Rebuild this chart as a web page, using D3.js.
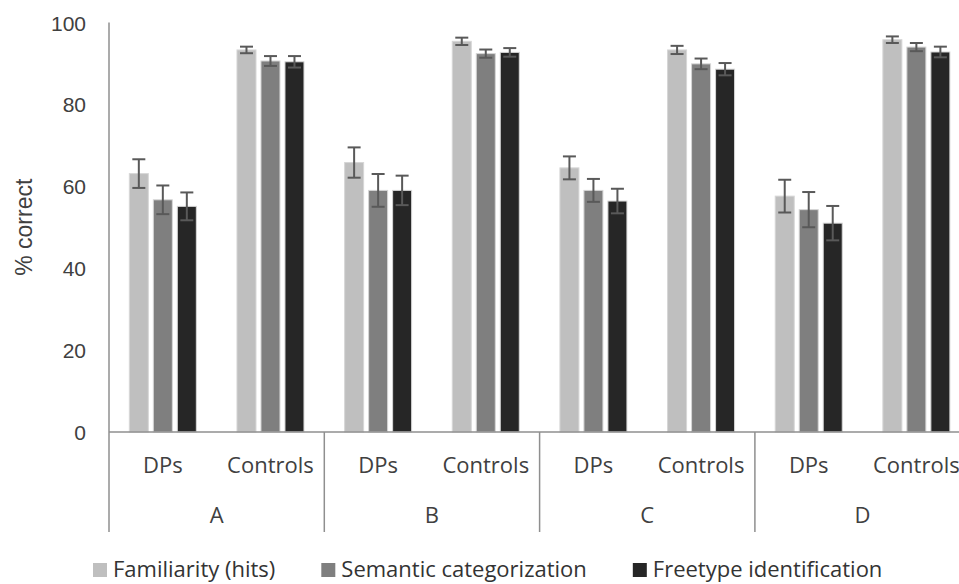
<!DOCTYPE html>
<html>
<head>
<meta charset="utf-8">
<script src="https://cdn.jsdelivr.net/npm/d3@7"></script>
<style>
  body { margin: 0; background: #fff; }
  svg { display: block; }
</style>
</head>
<body>
<svg width="959" height="584"></svg>
<script>
// chart data
var groups = ['A', 'B', 'C', 'D'];
var subgroups = ['DPs', 'Controls'];
var seriesNames = ['Familiarity (hits)', 'Semantic categorization', 'Freetype identification'];
var yTicks = [0, 20, 40, 60, 80, 100];

// values in order A-DPs, A-Controls, B-DPs, B-Controls, ...
var familiarity = [63.1, 93.3, 65.8, 95.4, 64.5, 93.3, 57.6, 95.8];
var semantic = [56.7, 90.6, 59.0, 92.4, 59.0, 89.9, 54.3, 94.0];
var freetype = [55.1, 90.4, 59.0, 92.7, 56.4, 88.6, 51.0, 92.8];

var familiarityErr = [3.5, 0.8, 3.7, 0.9, 2.8, 1.0, 4.0, 0.8];
var semanticErr = [3.5, 1.2, 4.0, 1.0, 2.8, 1.3, 4.3, 1.0];
var freetypeErr = [3.4, 1.4, 3.6, 1.05, 3.0, 1.5, 4.2, 1.3];

var seriesValues = [familiarity, semantic, freetype];
var seriesErrors = [familiarityErr, semanticErr, freetypeErr];
var colors = ['#bfbfbf', '#7f7f7f', '#262626'];

var svg = d3.select('svg');

var axisColor = '#8f8f8f';
var textColor = '#404040';
var labelFont = "'Open Sans', sans-serif";
var tickFont = "'Liberation Sans', Arial, sans-serif";

// layout
var plotLeft = 109;
var groupWidth = 215.3;
var baseY = 432;
var topY = 22.5;

var x0 = d3.scaleBand().domain(groups)
    .range([plotLeft, plotLeft + groupWidth * groups.length]);
var x1 = d3.scaleBand().domain(subgroups).range([0, x0.bandwidth()]);
// three bars of width 19 on a 24 px pitch, centred in each sub band
var clusterW = 67;
var x2 = d3.scaleBand().domain(d3.range(3))
    .range([(x1.bandwidth() - clusterW) / 2, (x1.bandwidth() + clusterW) / 2])
    .paddingInner(5 / 24);
var y = d3.scaleLinear().domain([0, 100]).range([baseY, topY]);

// flatten into records
var records = [];
groups.forEach(function(g, gi) {
    subgroups.forEach(function(s, si) {
        var idx = gi * subgroups.length + si;
        seriesNames.forEach(function(name, k) {
            records.push({group: g, sub: s, k: k,
                value: seriesValues[k][idx], err: seriesErrors[k][idx]});
        });
    });
});

// y axis labels
var yAxis = d3.axisLeft(y).tickValues(yTicks).tickSize(0).tickPadding(0);
var yG = svg.append('g')
    .attr('transform', 'translate(86,0)')
    .call(yAxis);
yG.select('.domain').remove();
yG.selectAll('text')
    .attr('font-family', tickFont)
    .attr('font-size', 21)
    .attr('fill', textColor)
    .attr('dy', '0.36em');

svg.append('text')
    .attr('transform', 'translate(32,' + ((baseY + topY) / 2) + ') rotate(-90)')
    .attr('text-anchor', 'middle')
    .attr('font-family', tickFont)
    .attr('font-size', 23)
    .attr('fill', textColor)
    .text('% correct');

// bars
var barsG = svg.append('g');
barsG.selectAll('rect')
    .data(records)
    .enter().append('rect')
    .attr('x', function(d) { return x0(d.group) + x1(d.sub) + x2(d.k); })
    .attr('y', function(d) { return y(d.value); })
    .attr('width', x2.bandwidth())
    .attr('height', function(d) { return baseY - y(d.value); })
    .attr('fill', function(d) { return colors[d.k]; })
    .attr('stroke', '#d6d6d6')
    .attr('stroke-width', 1);

// error bars
var capW = 13;
var errG = svg.append('g')
    .attr('stroke', '#595959')
    .attr('stroke-width', 2)
    .attr('fill', 'none');
var errBars = errG.selectAll('g')
    .data(records)
    .enter().append('g')
    .attr('transform', function(d) {
        return 'translate(' + (x0(d.group) + x1(d.sub) + x2(d.k) + x2.bandwidth() / 2) + ',0)';
    });
errBars.append('line')
    .attr('x1', 0).attr('x2', 0)
    .attr('y1', function(d) { return y(d.value + d.err); })
    .attr('y2', function(d) { return y(d.value - d.err); });
errBars.append('line')
    .attr('x1', -capW / 2).attr('x2', capW / 2)
    .attr('y1', function(d) { return y(d.value + d.err); })
    .attr('y2', function(d) { return y(d.value + d.err); });
errBars.append('line')
    .attr('x1', -capW / 2).attr('x2', capW / 2)
    .attr('y1', function(d) { return y(d.value - d.err); })
    .attr('y2', function(d) { return y(d.value - d.err); });

// axis lines: vertical axis, baseline and group dividers
var axisG = svg.append('g')
    .attr('stroke', axisColor)
    .attr('stroke-width', 1.5);
axisG.append('line')
    .attr('x1', plotLeft).attr('x2', plotLeft)
    .attr('y1', topY).attr('y2', baseY);
axisG.append('line')
    .attr('x1', plotLeft).attr('x2', x0.range()[1])
    .attr('y1', baseY).attr('y2', baseY);
axisG.selectAll('.divider')
    .data(groups.concat(['end']))
    .enter().append('line')
    .attr('class', 'divider')
    .attr('x1', function(d, i) { return plotLeft + i * x0.step(); })
    .attr('x2', function(d, i) { return plotLeft + i * x0.step(); })
    .attr('y1', baseY).attr('y2', 532);

// category labels
var catG = svg.append('g')
    .attr('font-family', labelFont)
    .attr('font-size', 22)
    .attr('fill', textColor)
    .attr('text-anchor', 'middle');
groups.forEach(function(g) {
    subgroups.forEach(function(s) {
        catG.append('text')
            .attr('x', x0(g) + x1(s) + x1.bandwidth() / 2)
            .attr('y', 473)
            .text(s);
    });
    catG.append('text')
        .attr('x', x0(g) + x0.bandwidth() / 2)
        .attr('y', 523)
        .text(g);
});

// legend
var legendG = svg.append('g')
    .attr('font-family', labelFont)
    .attr('font-size', 22)
    .attr('fill', '#333');
var lx = 93;
seriesNames.forEach(function(name, k) {
    legendG.append('rect')
        .attr('x', lx).attr('y', 563)
        .attr('width', 14).attr('height', 14)
        .attr('fill', colors[k]);
    var t = legendG.append('text')
        .attr('x', lx + 20)
        .attr('y', 577)
        .text(name);
    lx += 20 + t.node().getComputedTextLength() + 46;
});
</script>
</body>
</html>
